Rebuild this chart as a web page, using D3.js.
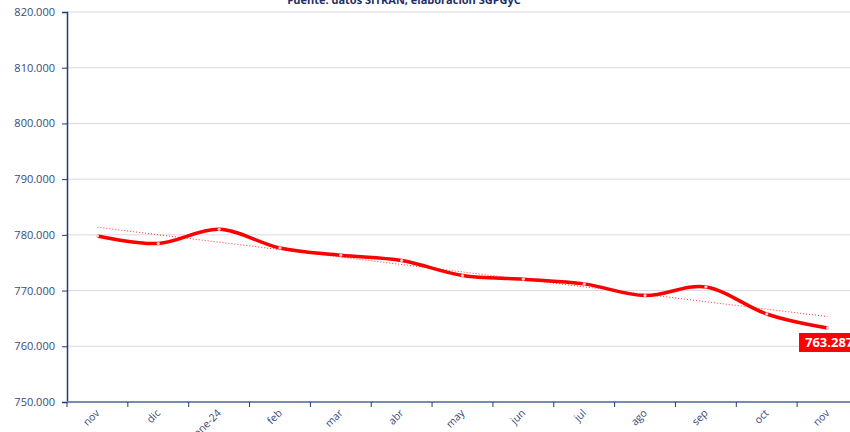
<!DOCTYPE html>
<html>
<head>
    <meta charset="utf-8">
    <script src="https://d3js.org/d3.v7.min.js"></script>
    <style>
        body { margin: 0; background: #fff; }
        svg { display: block; font-family: "Open Sans", sans-serif; }
    </style>
</head>
<body>
    <svg id="chart"></svg>
    <script>
        // data
        var months = ["nov", "dic", "ene-24", "feb", "mar", "abr", "may", "jun", "jul", "ago", "sep", "oct", "nov "];
        var afiliados = [779800, 778450, 781000, 777650, 776350, 775400, 772700, 772050, 771200, 769100, 770650, 765800, 763287];
        var yTicks = [750000, 760000, 770000, 780000, 790000, 800000, 810000, 820000];
        var subtitle = "Fuente: datos SITRAN, elaboración SGPGyC";

        var width = 850, height = 432;
        var margin = { top: 12, right: -8, bottom: 30, left: 67 };

        var svg = d3.select("#chart").attr("width", width).attr("height", height);

        var x = d3.scaleBand()
            .domain(months)
            .range([margin.left, width - margin.right]);

        var y = d3.scaleLinear()
            .domain([750000, 820000])
            .range([height - margin.bottom, margin.top]);

        var fmt = function (d) { return d3.format(",.0f")(d).replace(/,/g, "."); };

        // grid
        svg.append("g")
            .selectAll("line")
            .data(yTicks)
            .join("line")
            .attr("x1", margin.left).attr("x2", width)
            .attr("y1", d => y(d)).attr("y2", d => y(d))
            .attr("stroke", "#d6d8e6").attr("stroke-width", 1);

        // subtitle (cut at top)
        svg.append("text")
            .attr("x", 404).attr("y", 4)
            .attr("text-anchor", "middle")
            .attr("font-size", "11px").attr("font-weight", "bold")
            .attr("fill", "#1f3064")
            .text(subtitle);

        // y axis
        var yAxis = svg.append("g")
            .attr("transform", "translate(" + margin.left + ",0)")
            .call(d3.axisLeft(y).tickValues(yTicks).tickFormat(fmt).tickSize(5).tickPadding(7));
        yAxis.select(".domain").attr("stroke", "#1f3a7a").attr("stroke-width", 1.5);
        yAxis.selectAll(".tick line").attr("stroke", "#1f3a7a");
        yAxis.selectAll("text").attr("fill", "#3a4a7a").style("font-size", "11px").style("font-family", "Open Sans");

        // x axis
        var xAxis = svg.append("g")
            .attr("transform", "translate(0," + y(750000) + ")")
            .call(d3.axisBottom(x).tickSize(0).tickSizeOuter(0));
        xAxis.select(".domain").attr("stroke", "#7a8ab0").attr("stroke-width", 2)
            .attr("d", "M" + margin.left + ",0H" + width);
        xAxis.selectAll(".tick text")
            .attr("fill", "#3a4a7a")
            .style("font-size", "10.5px").style("font-family", "Open Sans")
            .attr("text-anchor", "end")
            .attr("transform", "translate(-2,7) rotate(-45)")
            .attr("dy", "0.35em");
        // tick marks between categories
        svg.append("g")
            .selectAll("line")
            .data(months)
            .join("line")
            .attr("x1", d => x(d)).attr("x2", d => x(d))
            .attr("y1", y(750000)).attr("y2", y(750000) + 5)
            .attr("stroke", "#1f3a7a").attr("stroke-width", 1);

        var cx = d => x(months[d]) + x.bandwidth() / 2;

        // linear trend line computed from the series
        var n = afiliados.length;
        var mx = d3.mean(d3.range(n)), my = d3.mean(afiliados);
        var slope = d3.sum(d3.range(n), i => (i - mx) * (afiliados[i] - my)) / d3.sum(d3.range(n), i => (i - mx) * (i - mx));
        var icpt = my - slope * mx;
        svg.append("line")
            .attr("x1", cx(0)).attr("y1", y(icpt))
            .attr("x2", cx(n - 1)).attr("y2", y(icpt + slope * (n - 1)))
            .attr("stroke", "#ff3030").attr("stroke-width", 1)
            .attr("stroke-dasharray", "1,2");

        // smoothed line
        var line = d3.line()
            .x((d, i) => cx(i))
            .y(d => y(d))
            .curve(d3.curveCardinal.tension(0));

        svg.append("path")
            .datum(afiliados)
            .attr("fill", "none")
            .attr("stroke", "#ff0000")
            .attr("stroke-width", 3.5)
            .attr("d", line);

        svg.append("g")
            .selectAll("circle")
            .data(afiliados)
            .join("circle")
            .attr("cx", (d, i) => cx(i))
            .attr("cy", d => y(d))
            .attr("r", 1.6)
            .attr("fill", "#ffd0d0");

        // last value label
        var last = afiliados[n - 1];
        svg.append("rect")
            .attr("x", 799).attr("y", y(last) + 5)
            .attr("width", 60).attr("height", 19)
            .attr("fill", "#ff0000");
        svg.append("text")
            .attr("x", 805).attr("y", y(last) + 19.5)
            .attr("fill", "#fff")
            .attr("font-size", "13px").attr("font-weight", "bold")
            .text(fmt(last));
    </script>
</body>
</html>
